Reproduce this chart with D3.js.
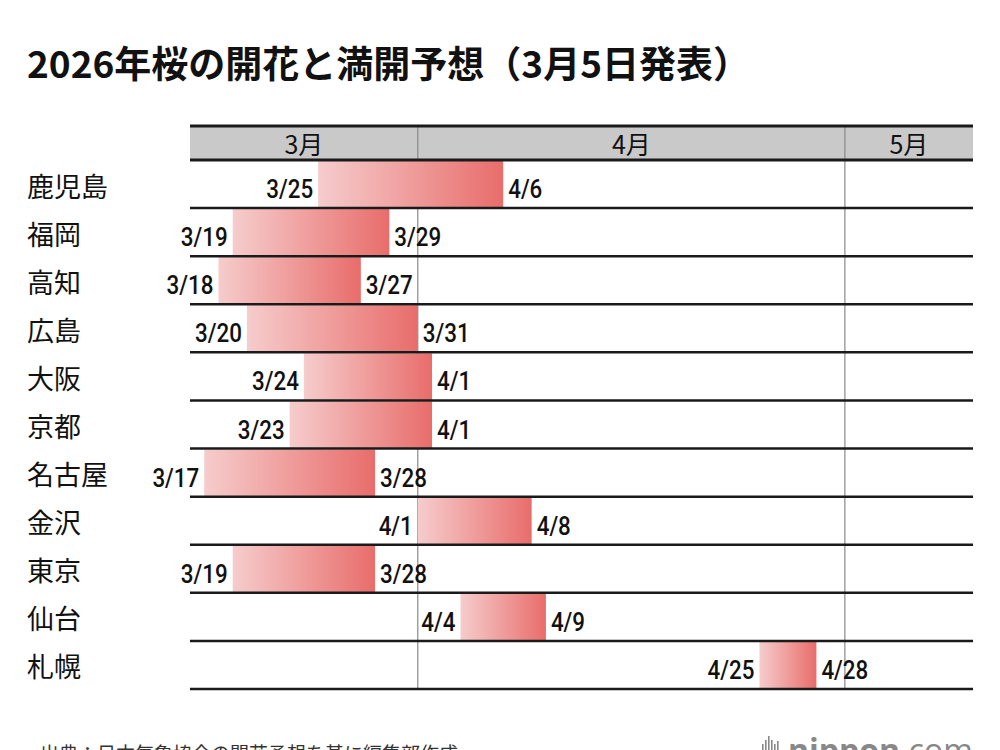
<!DOCTYPE html>
<html>
<head>
<meta charset="utf-8">
<script src="https://cdn.jsdelivr.net/npm/d3@7"></script>
<style>
  body { margin: 0; background: #fff; }
  svg { display: block; }
  .city { font-family: "Noto Sans CJK JP", sans-serif; font-size: 27px; fill: #111; }
  .date { font-family: Roboto, "Liberation Sans", sans-serif; font-weight: 500; font-size: 26px; fill: #111; }
  .month { font-family: "Noto Sans CJK JP", sans-serif; font-size: 25px; fill: #111; }
</style>
</head>
<body>
<svg></svg>
<script>
const w = 1000;
const h = 750;

// Data
const cities = ["鹿児島", "福岡", "高知", "広島", "大阪", "京都", "名古屋", "金沢", "東京", "仙台", "札幌"];
const bloom = ["3/25", "3/19", "3/18", "3/20", "3/24", "3/23", "3/17", "4/1", "3/19", "4/4", "4/25"];
const fullBloom = ["4/6", "3/29", "3/27", "3/31", "4/1", "4/1", "3/28", "4/8", "3/28", "4/9", "4/28"];
const months = ["3月", "4月", "5月"];

const day = s => {
  const [m, d] = s.split("/").map(Number);
  return new Date(Date.UTC(2026, m - 1, d));
};
const rows = cities.map((c, i) => ({
  city: c,
  from: bloom[i],
  to: fullBloom[i],
  start: day(bloom[i]),
  end: d3.utcDay.offset(day(fullBloom[i]), 1)
}));

const svg = d3.select("svg")
    .attr("width", w)
    .attr("height", h);

const x = d3.scaleUtc()
    .domain([new Date(Date.UTC(2026, 2, 16)), new Date(Date.UTC(2026, 4, 10))])
    .range([190, 973]);

const y = d3.scaleBand()
    .domain(cities)
    .range([160, 689]);

const gradient = svg.append("defs").append("linearGradient")
    .attr("id", "bloom");
gradient.append("stop").attr("offset", "0%").attr("stop-color", "#f6cccc");
gradient.append("stop").attr("offset", "100%").attr("stop-color", "#e86d6b");

// Title
svg.append("text")
    .attr("x", 27)
    .attr("y", 78)
    .attr("font-family", "'Noto Sans CJK JP', sans-serif")
    .attr("font-weight", 700)
    .attr("font-size", 37)
    .attr("fill", "#111")
    .text("2026年桜の開花と満開予想（3月5日発表）");

// Month header
const monthStarts = months.map((m, i) => new Date(Date.UTC(2026, 2 + i, 1)));
const [x0, x1] = x.range();

svg.append("rect")
    .attr("x", x0)
    .attr("y", 127)
    .attr("width", x1 - x0)
    .attr("height", 33)
    .attr("fill", "#c9c9c9");

svg.selectAll(".month")
    .data(months)
    .enter()
    .append("text")
    .attr("class", "month")
    .attr("x", (d, i) => {
      const a = Math.max(x0, x(monthStarts[i]));
      const b = i < 2 ? x(monthStarts[i + 1]) : x1;
      return (a + b) / 2;
    })
    .attr("y", 143)
    .attr("text-anchor", "middle")
    .attr("dominant-baseline", "central")
    .text(d => d);

// Month dividers
svg.selectAll(".divider")
    .data(monthStarts.slice(1))
    .enter()
    .append("line")
    .attr("class", "divider")
    .attr("x1", d => x(d))
    .attr("x2", d => x(d))
    .attr("y1", 127)
    .attr("y2", y.range()[1])
    .attr("stroke", "#8a8a8a")
    .attr("stroke-width", 1.2);

// Bars
const bars = svg.selectAll(".row")
    .data(rows)
    .enter()
    .append("g")
    .attr("class", "row");

bars.append("rect")
    .attr("x", d => x(d.start))
    .attr("y", d => y(d.city) + 1)
    .attr("width", d => x(d.end) - x(d.start))
    .attr("height", y.bandwidth() - 1)
    .attr("fill", "url(#bloom)");

// condensed look: squeeze the glyphs a little
const squeeze = sel => sel.each(function() {
  this.setAttribute("textLength", this.getComputedTextLength() * 0.86);
  this.setAttribute("lengthAdjust", "spacingAndGlyphs");
});

bars.append("text")
    .attr("class", "date")
    .attr("x", d => x(d.start) - 5)
    .attr("y", d => y(d.city) + y.bandwidth() / 2 + 14)
    .attr("text-anchor", "end")
    .text(d => d.from)
    .call(squeeze);

bars.append("text")
    .attr("class", "date")
    .attr("x", d => x(d.end) + 5)
    .attr("y", d => y(d.city) + y.bandwidth() / 2 + 14)
    .text(d => d.to)
    .call(squeeze);

bars.append("text")
    .attr("class", "city")
    .attr("x", 27)
    .attr("y", d => y(d.city) + y.bandwidth() / 2 + 1)
    .attr("dominant-baseline", "central")
    .text(d => d.city);

// Row rules
svg.selectAll(".rule")
    .data(cities.map(c => y(c) + y.bandwidth()).concat([126, 160]))
    .enter()
    .append("line")
    .attr("class", "rule")
    .attr("x1", x0)
    .attr("x2", x1)
    .attr("y1", d => d)
    .attr("y2", d => d)
    .attr("stroke", "#1a1a1a")
    .attr("stroke-width", (d, i) => i >= cities.length ? 3 : 2.5);

// Footer
svg.append("text")
    .attr("x", 40)
    .attr("y", 761)
    .attr("font-family", "'Noto Sans CJK JP', sans-serif")
    .attr("font-size", 19)
    .attr("fill", "#333")
    .text("出典：日本気象協会の開花予想を基に編集部作成");

const logo = svg.append("g").attr("fill", "#888");
logo.selectAll("rect")
    .data([6, 10, 14, 10, 6, 9])
    .enter()
    .append("rect")
    .attr("x", (d, i) => 762 + i * 3)
    .attr("y", d => 750 - d)
    .attr("width", 1.6)
    .attr("height", d => d);
logo.append("text")
    .attr("x", 788)
    .attr("y", 762)
    .attr("font-family", "'Open Sans', sans-serif")
    .attr("font-size", 32)
    .html('<tspan font-weight="700">nippon</tspan><tspan font-weight="400">.com</tspan>');
</script>
</body>
</html>
